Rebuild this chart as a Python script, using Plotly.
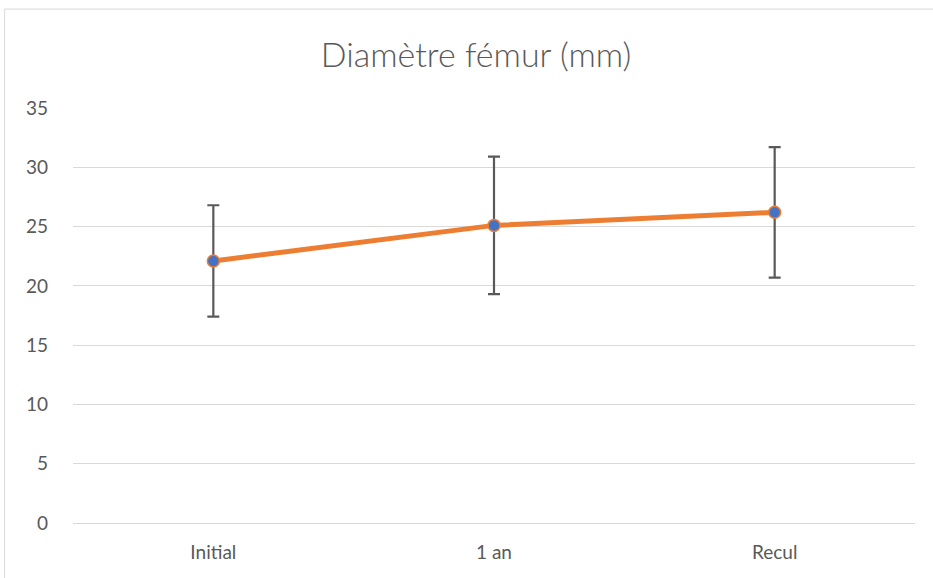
import plotly.graph_objects as go

categories = ["Initial", "1 an", "Recul"]
means = [22.1, 25.1, 26.2]
errors = [4.7, 5.8, 5.5]
y_ticks = [0, 5, 10, 15, 20, 25, 30, 35]

W, H = 933, 578
L, R, T, B = 72.5, 17.5, 108, 54.7
pw = W - L - R
ph = H - T - B

fig = go.Figure()
fig.add_trace(go.Scatter(
    x=categories, y=means, mode="lines+markers",
    line=dict(color="#ED7D31", width=5),
    marker=dict(size=12, color="#4472C4", line=dict(color="#ED7D31", width=1.5)),
    error_y=dict(type="data", array=errors, visible=True, color="#595959",
                 thickness=2.2, width=6),
    showlegend=False,
))

fig.update_layout(
    width=W, height=H,
    margin=dict(l=L, r=R, t=T, b=B, autoexpand=False),
    paper_bgcolor="white", plot_bgcolor="white",
    title=dict(text="Diamètre fémur (mm)", x=476 / W, xanchor="center",
               y=1 - 55 / H, yanchor="middle",
               font=dict(family="Lato", size=34, color="#595959", weight=300)),
    xaxis=dict(showgrid=False, showline=False, zeroline=False, ticks="",
               tickfont=dict(family="Lato", size=19, color="#595959"),
               range=[-0.5, 2.5], ticklabelstandoff=16),
    yaxis=dict(range=[0, 35], tickvals=y_ticks, showgrid=True, gridcolor="#D9D9D9",
               gridwidth=1, zeroline=True, zerolinecolor="#D9D9D9", zerolinewidth=1,
               showline=False, ticks="", ticklabelstandoff=24,
               tickfont=dict(family="Lato", size=19, color="#595959")),
    font=dict(family="Lato"),
)

# outer chart border (cropped on right and bottom in the reference)
fig.add_shape(type="rect", xref="paper", yref="paper",
              x0=(4 - L) / pw, x1=(W + 20 - L) / pw,
              y0=(H - B - (H + 20)) / ph, y1=(H - B - 9) / ph,
              line=dict(color="#D9D9D9", width=1), fillcolor="rgba(0,0,0,0)",
              layer="below")

fig.write_html("out.html", config={"displayModeBar": False},
               post_script="document.body.style.margin='0';")
